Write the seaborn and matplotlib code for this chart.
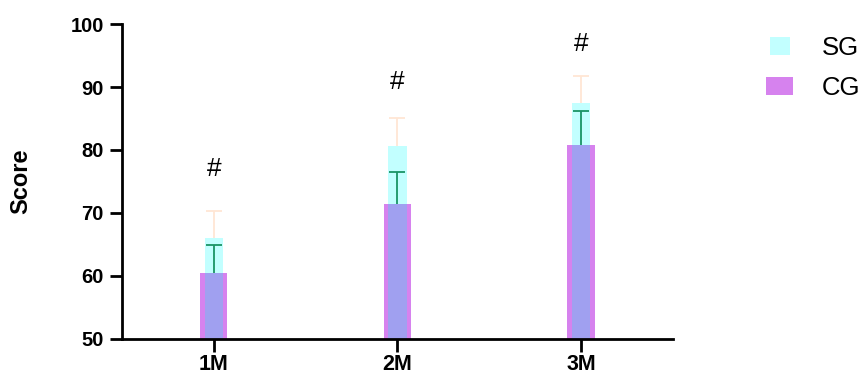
import numpy as np
import pandas as pd
import seaborn as sns
import matplotlib.pyplot as plt
from matplotlib.patches import Patch, Rectangle
from matplotlib.legend_handler import HandlerPatch

# data
months = ["1M", "2M", "3M"]
sg_mean = [66.0, 80.7, 87.4]
sg_sd = [4.3, 4.4, 4.3]
cg_mean = [60.5, 71.4, 80.8]
cg_sd = [4.4, 5.1, 5.4]
marks = ["#", "#", "#"]
mark_y = [77.0, 90.8, 96.8]

sg_color = "#c2ffff"
cg_color = "#d682ee"
overlap_color = "#a0a0f0"
sg_err_color = "#ffe6d4"
cg_err_color = "#1a9466"

sns.set_style("ticks")
plt.rcParams['font.family'] = ['Liberation Sans', 'DejaVu Sans']
plt.rcParams['text.color'] = 'black'
plt.rcParams['axes.labelcolor'] = 'black'
plt.rcParams['xtick.color'] = 'black'
plt.rcParams['ytick.color'] = 'black'

df = pd.DataFrame({"month": months, "SG": sg_mean, "CG": cg_mean})

fig = plt.figure(figsize=(8.67, 3.78), dpi=100)
ax = fig.add_axes([0.1407, 0.1032, 0.776 - 0.1407, 0.9365 - 0.1032])

# SG bars behind, CG bars in front, overlap shown in a blended colour
sns.barplot(data=df, x="month", y="SG", width=0.1, color=sg_color,
            saturation=1, linewidth=0, ax=ax)
sns.barplot(data=df, x="month", y="CG", width=0.148, color=cg_color,
            saturation=1, linewidth=0, ax=ax)
sns.barplot(data=df, x="month", y="CG", width=0.1, color=overlap_color,
            saturation=1, linewidth=0, ax=ax)

xs = np.arange(len(months))
for mean, sd, col in [(sg_mean, sg_sd, sg_err_color), (cg_mean, cg_sd, cg_err_color)]:
    _, caps, _ = ax.errorbar(xs, mean, yerr=[np.zeros(3), sd], fmt="none",
                             ecolor=col, elinewidth=1.3, capsize=5.5, capthick=1.3)
    caps[0].set_visible(False)  # only the upper cap

for x, y, t in zip(xs, mark_y, marks):
    ax.text(x, y, t, ha="center", va="center", fontsize=19)

ax.set_xlim(-0.5, 2.5)
ax.set_ylim(50, 100)
ax.set_yticks([50, 60, 70, 80, 90, 100])
ax.set_xlabel("")
ax.set_ylabel("Score", fontsize=17, fontweight="bold")
ax.yaxis.set_label_coords(-0.162, 0.5)

for lab in ax.get_xticklabels():
    lab.set_fontweight("bold")
    lab.set_fontsize(15.5)
for lab in ax.get_yticklabels():
    lab.set_fontweight("bold")
    lab.set_fontsize(14.5)

ax.tick_params(axis="both", length=9, width=2, pad=4)
ax.tick_params(axis="x", pad=1.5)
sns.despine(ax=ax)
for side in ["left", "bottom"]:
    ax.spines[side].set_linewidth(2)
    ax.spines[side].set_color("black")


def narrow_patch(legend, orig_handle, xdescent, ydescent, width, height, fontsize):
    w = width * 0.74
    return Rectangle((-xdescent + (width - w) / 2, -ydescent), w, height)


handles = [Patch(facecolor=sg_color, edgecolor="none", label="SG"),
           Patch(facecolor=cg_color, edgecolor="none", label="CG")]
fig.legend(handles=handles, loc="upper left", bbox_to_anchor=(0.857, 0.965),
           frameon=False, fontsize=18.5, handlelength=1.05, handleheight=0.7,
           labelspacing=0.6, handletextpad=1.1,
           handler_map={handles[0]: HandlerPatch(patch_func=narrow_patch)})

fig.savefig("out.png", dpi=100)
